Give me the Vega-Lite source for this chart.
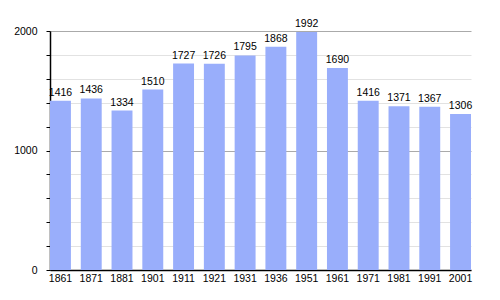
{
  "$schema": "https://vega.github.io/schema/vega-lite/v6.json",
  "width": 421,
  "height": 239,
  "autosize": {"type": "none"},
  "padding": {"left": 50, "top": 31, "right": 29, "bottom": 30},
  "background": "white",
  "config": {
    "view": {"stroke": null},
    "font": "Liberation Sans",
    "axis": {"labelFont": "Liberation Sans", "labelColor": "#000", "labelFontSize": 10.5}
  },
  "data": {
    "values": [
      {"year": "1861", "pop": 1416},
      {"year": "1871", "pop": 1436},
      {"year": "1881", "pop": 1334},
      {"year": "1901", "pop": 1510},
      {"year": "1911", "pop": 1727},
      {"year": "1921", "pop": 1726},
      {"year": "1931", "pop": 1795},
      {"year": "1936", "pop": 1868},
      {"year": "1951", "pop": 1992},
      {"year": "1961", "pop": 1690},
      {"year": "1971", "pop": 1416},
      {"year": "1981", "pop": 1371},
      {"year": "1991", "pop": 1367},
      {"year": "2001", "pop": 1306}
    ]
  },
  "encoding": {
    "x": {
      "field": "year", "type": "nominal", "sort": null,
      "scale": {"paddingInner": 0.32, "paddingOuter": 0},
      "axis": {"title": null, "labelAngle": 0, "ticks": false, "labelPadding": 3, "domainColor": "#000", "domainWidth": 1.5}
    },
    "y": {
      "field": "pop", "type": "quantitative",
      "scale": {"domain": [0, 2000], "nice": false},
      "axis": {
        "title": null,
        "values": [0, 200, 400, 600, 800, 1000, 1200, 1400, 1600, 1800, 2000],
        "labelExpr": "datum.value % 1000 === 0 ? datum.label : ''",
        "format": "d",
        "grid": true,
        "gridColor": {"condition": {"test": "datum.value % 1000 === 0", "value": "#aaaaaa"}, "value": "#e2e2e2"},
        "tickSize": 4,
        "tickColor": "#000",
        "labelPadding": 9,
        "domainColor": "#000",
        "domainWidth": 1.5
      }
    }
  },
  "layer": [
    {"mark": {"type": "bar", "color": "#99aefb"}},
    {
      "mark": {"type": "text", "baseline": "bottom", "dy": -3, "fontSize": 10.5, "font": "Liberation Sans", "color": "#000"},
      "encoding": {"text": {"field": "pop", "type": "quantitative", "format": "d"}}
    }
  ]
}
